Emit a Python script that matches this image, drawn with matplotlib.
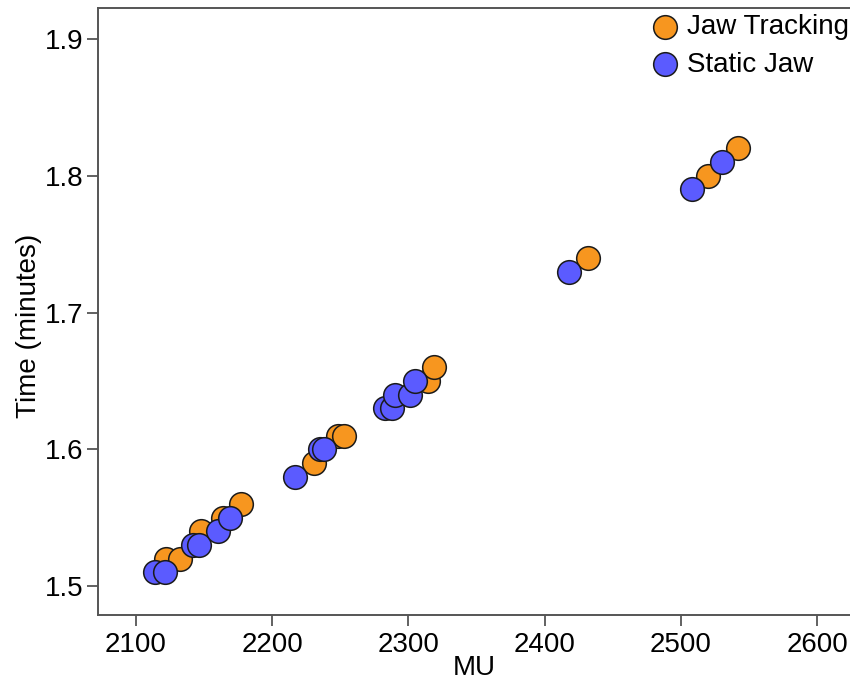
import matplotlib
matplotlib.use("Agg")
import matplotlib.pyplot as plt

plt.rcParams['font.family'] = ['Liberation Sans', 'DejaVu Sans']

# Monitor units and delivery time for each plan
jaw_tracking_mu = [2122, 2132, 2148, 2164, 2177, 2231, 2248, 2253, 2314, 2319,
                   2432, 2520, 2542]
jaw_tracking_time = [1.52, 1.52, 1.54, 1.55, 1.56, 1.59, 1.61, 1.61, 1.65, 1.66,
                     1.74, 1.80, 1.82]

static_jaw_mu = [2114, 2121, 2142, 2146, 2160, 2169, 2217, 2235, 2238, 2283,
                 2288, 2290, 2301, 2305, 2418, 2508, 2530]
static_jaw_time = [1.51, 1.51, 1.53, 1.53, 1.54, 1.55, 1.58, 1.60, 1.60, 1.63,
                   1.63, 1.64, 1.64, 1.65, 1.73, 1.79, 1.81]

x_ticks = [2100, 2200, 2300, 2400, 2500, 2600]
y_ticks = [1.5, 1.6, 1.7, 1.8, 1.9]

orange = '#F7961F'
blue = '#5B5BFF'

fig = plt.figure(figsize=(8.5, 6.83), dpi=100)
ax = fig.add_axes([0.115, 0.0996, 0.885, 0.8887])

marker_kw = dict(s=290, edgecolors='#1a1a1a', linewidths=1.1)
ax.scatter(jaw_tracking_mu, jaw_tracking_time, color=orange,
           label='Jaw Tracking', zorder=3, **marker_kw)
ax.scatter(static_jaw_mu, static_jaw_time, color=blue,
           label='Static Jaw', zorder=4, **marker_kw)

ax.set_xlim(2072, 2624)
ax.set_ylim(1.4787, 1.9228)
ax.set_xticks(x_ticks)
ax.set_yticks(y_ticks)
ax.set_xticklabels([str(v) for v in x_ticks])
ax.set_yticklabels([f'{v:.1f}' for v in y_ticks])

for side in ['left', 'bottom', 'top']:
    ax.spines[side].set_color('#555555')
    ax.spines[side].set_linewidth(1.4)
ax.spines['right'].set_visible(False)

ax.tick_params(axis='both', direction='out', length=8, width=1.3,
               color='#555555', labelsize=20, labelcolor='black')
ax.tick_params(axis='x', pad=4)
ax.tick_params(axis='y', pad=2)

ax.set_xlabel('MU', fontsize=20, labelpad=-2)
ax.set_ylabel('Time (minutes)', fontsize=20, labelpad=2)
ax.yaxis.label.set_y(0.476)

leg = ax.legend(loc='upper right', bbox_to_anchor=(1.025, 1.022), frameon=False,
                fontsize=20, handletextpad=-0.2, labelspacing=0.42,
                borderpad=0.2, markerscale=1.0, scatterpoints=1)

fig.savefig('out.png', dpi=100, facecolor='white')
